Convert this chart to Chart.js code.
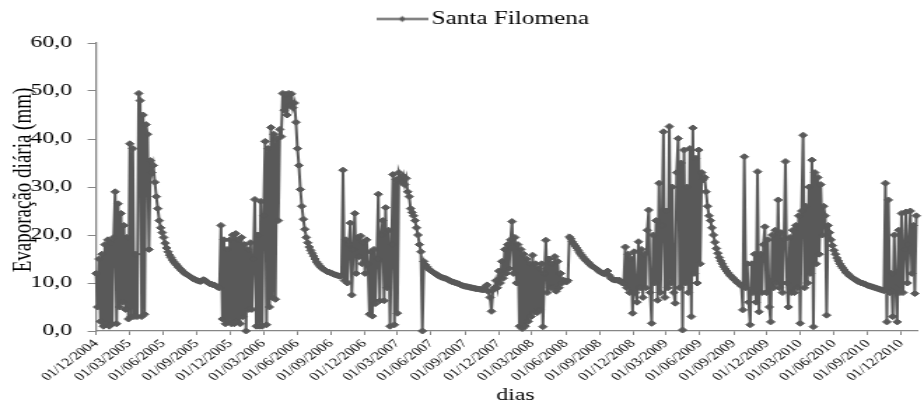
<!DOCTYPE html>
<html><head><meta charset="utf-8">
<script src="https://cdn.jsdelivr.net/npm/chart.js@4/dist/chart.umd.min.js"></script>
<style>
html,body{margin:0;padding:0;background:#fff;overflow:hidden;width:924px;height:408px;}
#wrap{position:absolute;left:0;top:0;width:660px;height:408px;transform:scaleX(1.4);transform-origin:0 0;}
</style></head><body>
<div id="wrap"><canvas id="c"></canvas></div>
<script>
// one value every 4 days, starting 01/12/2004
const STEP_DAYS = 4;
const evap2005 = [12,5,15,2,16,1,18,1.5,19,1,
 18.5,1.5,19.5,29,1.5,26.5,5,24.5,6,22,
 4.5,19.5,2.5,39,3,38,3,16,3,49.5,
 48,3,45,3.5,43,41,17,35.5,33,34.5,
 31,28,25.5,23,21.5,20.5,19.5,18.3,17.3,16.5,
 15.8,15.3,14.8,14.4,14,13.7,13.3,13,12.7,12.4,
 12.1,11.9,11.7,11.5,11.3,11.1,10.9,10.8,10.6,10.5,
 10.4,10.3,10.5,10.7,10.6,10.3,10.1,9.9,9.8,9.7,
 9.6,9.5,9.3,9.1,9,22,2.5,19,1.5,17,
 2];
const evap2006 = [19,1.5,20,1.5,20.3,2,19,1.5,19.5,3,
 18,0,17,4.5,18.4,4.5,15,27.4,1,20,
 1,27,1,24,39.5,1.3,38,5,42.4,7,
 41,6.6,40,23,42,40.5,49.5,46,49.3,45,
 49.5,47,49.4,46.5,47.5,43.5,38,34.5,29.5,26,
 23.3,21.2,19.5,18.4,17.5,16.8,16.2,15.6,15,14.4,
 14,13.6,13.3,13,12.8,12.6,12.4,12.3,12.2,12.1,
 11.9,11.8,11.7,11.6,11.5,11.4,11.5,33.5,10.5,19,
 10,18,22.5,7.5,17,24.5,12,19.5,15.5,19.8,
 14];
const evap2007 = [18.5,12,19,14,3.5,16.5,3.1,17,5.7,15,
 28.5,6.3,20,23,6.3,25.7,9,21,1,18,
 32.6,1.3,31.5,3.7,33,32,31,32.3,30.5,31.8,
 29,28,25.5,24.7,24,23,21.5,20,18,16.5,
 0,14.5,13.8,13.4,13,12.7,12.5,12.3,12.1,11.9,
 11.7,11.5,11.3,11.2,11.1,11,10.9,10.8,10.6,10.4,
 10.3,10.2,10.1,10,9.9,9.8,9.6,9.5,9.4,9.3,
 9.25,9.2,9.1,9.05,9,8.9,8.85,8.8,8.75,8.7,
 8.65,8.6,8.6,9.3,9.6,8.2,7,4.1,8.5,9,
 10.5];
const evap2008 = [9,12.5,10,14.5,11,17,12,18,13,19,
 22.8,12,19.5,10,18,1,17,0.5,16,1,
 15,2,14,3,15.8,4,14,3.8,13,4.4,
 14,0.9,12,18.9,8,15,9,14,9,15.5,
 8.3,14.5,9,12,10,10.6,10.4,10.2,10.5,19.6,
 19.2,18.6,18.1,17.7,17.3,16.8,16.3,15.9,15.5,15.1,
 14.8,14.5,14.2,13.9,13.6,13.4,13.2,13,12.8,12.5,
 12.3,12.1,12,11.9,12.3,12.5,11.6,11.1,10.8,10.7,
 10.6,10.6,10.5,10.6,10.3,10,9.9,17.5,9,16,
 8];
const evap2009 = [15,3.7,16.5,8,6,18.6,9,17,7,16,
 9,21,25.2,8,1.6,20,10,23,6.4,30.8,
 8,22,41.5,7,25,9,42.6,10,30,8,
 5.8,33,40.1,9,35,0.2,37.7,10,30,8,
 38,3,42.3,12,36,10,37.7,14,33,31.5,
 32,29,26,24,23,21.5,20,18.5,17.2,16.2,
 15.3,14.6,14,13.4,12.9,12.5,12.1,11.7,11.4,11.1,
 10.8,10.5,10.2,9.9,9.7,9.4,4.4,36.3,9,14,
 6,1.3,14,8,16,6,33.2,4,16,8,
 18];
const evap2010 = [21.7,8,19,5,1.9,20,9,21,10,27.3,
 9,20.5,8,19,35.3,10,5,19.5,8,21,
 8,22,9,24,1.6,25,40.8,9,26,10,
 30,12,35.6,0.9,33,14,32,16,30.5,20,
 26,24,3.3,22,20.5,19,17.8,16.8,16,15.2,
 14.6,14,13.5,13.1,12.7,12.3,12,11.7,11.4,11.2,
 11,10.8,10.6,10.4,10.2,10.1,10,9.9,9.8,9.6,
 9.5,9.4,9.3,9.2,9.1,9,8.9,8.8,8.7,8.6,
 8.5,8.4,30.8,1.9,27.3,8,12,3,20,9,
 1.9];
const evap2011 = [21,8,24.5,8,17,24.8,10,18,25,12,22,7.8,24];

// x tick positions (days after 01/12/2004) and their labels
const tickDays = [0,90,182,274,365,455,547,639,730,820,912,1004,1095,1186,1278,1370,1461,1551,1643,1735,1826,1916,2008,2100,2191];
const tickLabels = ['01/12/2004','01/03/2005','01/06/2005','01/09/2005','01/12/2005','01/03/2006','01/06/2006','01/09/2006',
 '01/12/2006','01/03/2007','01/06/2007','01/09/2007','01/12/2007','01/03/2008','01/06/2008','01/09/2008',
 '01/12/2008','01/03/2009','01/06/2009','01/09/2009','01/12/2009','01/03/2010','01/06/2010','01/09/2010','01/12/2010'];
const yTickValues = [0,10,20,30,40,50,60];
const yTickLabels = ['0,0','10,0','20,0','30,0','40,0','50,0','60,0'];
const seriesName = 'Santa Filomena';
const xTitle = 'dias';
const yTitle = 'Evaporação diária (mm)';

const values = [].concat(evap2005, evap2006, evap2007, evap2008, evap2009, evap2010, evap2011);
const points = values.map((v, i) => ({x: i * STEP_DAYS, y: v}));

const GRAY = '#595959';
const AXIS = '#868686';
const FONT = "'Liberation Serif', 'Times New Roman', serif";

// legend glyph: line with a small diamond
const glyph = document.createElement('canvas');
glyph.width = 37; glyph.height = 9;
(function(){
  const g = glyph.getContext('2d');
  g.strokeStyle = GRAY; g.lineWidth = 2.2;
  g.beginPath(); g.moveTo(0, 4.5); g.lineTo(37, 4.5); g.stroke();
  g.fillStyle = GRAY;
  g.beginPath(); g.moveTo(16, 4.5); g.lineTo(18.5, 1.5); g.lineTo(21, 4.5); g.lineTo(18.5, 7.5); g.closePath(); g.fill();
})();

const tweaks = {
  id: 'tweaks',
  afterLayout(chart) {
    const lg = chart.legend;
    if (lg) { lg.left += 18; lg.right += 18; lg.top -= 5; lg.bottom -= 5; }
  },
  beforeDraw(chart) {
    const shift = (sc, dx, dy) => {
      if (!sc || sc._titleShifted) return;
      const orig = sc.drawTitle.bind(sc);
      sc.drawTitle = function () { const c = this.ctx; c.save(); c.translate(dx, dy); orig(); c.restore(); };
      sc._titleShifted = true;
    };
    shift(chart.scales.x, 6.4, 0);
    shift(chart.scales.y, 0, -7);
  }
};

new Chart(document.getElementById('c'), {
  type: 'line',
  data: {
    datasets: [{
      label: seriesName,
      data: points,
      borderColor: GRAY,
      backgroundColor: GRAY,
      borderWidth: 2,
      pointStyle: 'rectRot',
      pointRadius: 3,
      pointBorderWidth: 1,
      pointBackgroundColor: GRAY,
      pointBorderColor: GRAY,
      tension: 0,
      clip: false
    }]
  },
  options: {
    responsive: true,
    maintainAspectRatio: false,
    animation: false,
    events: [],
    layout: { padding: 0 },
    plugins: {
      tooltip: { enabled: false },
      legend: {
        display: true,
        position: 'top',
        labels: {
          usePointStyle: true,
          pointStyleWidth: 24,
          padding: 15,
          color: '#000',
          font: { family: FONT, size: 18 },
          generateLabels: () => [{ text: seriesName, pointStyle: glyph, fillStyle: GRAY, strokeStyle: GRAY, lineWidth: 0, hidden: false, datasetIndex: 0, fontColor: '#000' }]
        }
      }
    },
    scales: {
      x: {
        type: 'linear',
        min: 0,
        max: 2234,
        afterBuildTicks: s => { s.ticks = tickDays.map(v => ({ value: v })); },
        afterFit: s => { s.height = 77; },
        ticks: {
          autoSkip: false, maxRotation: 45, minRotation: 45, padding: 2,
          color: '#000', font: { family: FONT, size: 11.5 },
          callback: (v, i) => tickLabels[i]
        },
        grid: { display: true, drawOnChartArea: false, drawTicks: true, tickLength: 4, color: AXIS, lineWidth: 1 },
        border: { display: true, color: AXIS, width: 1.3 },
        title: { display: true, text: xTitle, color: '#000', font: { family: FONT, size: 17 }, padding: { top: 0, bottom: 2 } }
      },
      y: {
        min: 0,
        max: 60,
        afterBuildTicks: s => { s.ticks = yTickValues.map(v => ({ value: v })); },
        afterFit: s => { s.width = 68.6; },
        ticks: {
          padding: 11, color: '#000', font: { family: FONT, size: 17 },
          callback: (v, i) => yTickLabels[i]
        },
        grid: { display: true, drawOnChartArea: false, drawTicks: true, tickLength: 6, color: AXIS, lineWidth: 1 },
        border: { display: true, color: AXIS, width: 1.3 },
        title: { display: true, text: yTitle, color: '#000', font: { family: FONT, size: 19 }, padding: { top: 5.6, bottom: 0 } }
      }
    }
  },
  plugins: [tweaks]
});
</script>
</body></html>
